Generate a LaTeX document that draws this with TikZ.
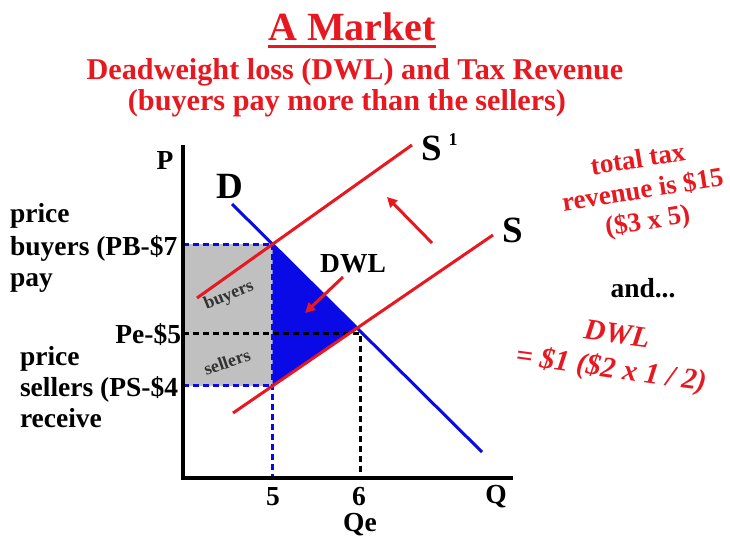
\documentclass[tikz,border=0pt]{standalone}
\usepackage{fontspec}
\setmainfont{Liberation Serif}
\usetikzlibrary{intersections,arrows.meta}
\definecolor{mred}{RGB}{232,24,32}
\definecolor{mblue}{RGB}{10,10,230}
\definecolor{mgray}{RGB}{192,192,192}
\tikzset{
 basetxt/.style={inner sep=0pt, outer sep=0pt},
 ttl/.style={basetxt, text=mred, font=\bfseries\fontsize{40}{44}\selectfont},
 sub/.style={basetxt, text=mred, font=\bfseries\fontsize{30.2}{33}\selectfont},
 lbl/.style={basetxt, font=\bfseries\fontsize{27.5}{30}\selectfont},
 big/.style={basetxt, font=\bfseries\fontsize{37}{40}\selectfont},
 sup1/.style={basetxt, font=\bfseries\fontsize{18}{20}\selectfont},
 small/.style={basetxt, text=black!80, font=\bfseries\fontsize{18}{20}\selectfont},
 rtxt/.style={basetxt, text=mred, align=center, font=\bfseries\fontsize{27}{31}\selectfont},
 rit/.style={basetxt, text=mred, font=\bfseries\itshape\fontsize{29.5}{32}\selectfont},
 axisline/.style={line width=3.5pt, black, line cap=rect},
 dline/.style={line width=3pt, mblue},
 sline/.style={line width=3pt, mred},
 bdash/.style={line width=3pt, mblue, dash pattern=on 6pt off 4pt},
 kdash/.style={line width=3pt, black, dash pattern=on 6pt off 4pt},
 rarrow/.style={line width=3pt, mred, -{Triangle[length=10pt,width=10pt]}},
}
\begin{document}
\begin{tikzpicture}[x=1pt,y=-1pt]
\useasboundingbox (0,0) rectangle (730,536);
% curve end points
\coordinate (D1) at (232,204);
\coordinate (D2) at (482,452);
\coordinate (Sa1) at (197,298);
\coordinate (Sa2) at (412,145);
\coordinate (Sb1) at (233,413);
\coordinate (Sb2) at (493,235);
\coordinate (O) at (183,478);
\coordinate (Ptop) at (183,147);
\coordinate (Qend) at (511,478);
\coordinate (Pe) at (360,333);
\path[name path=Dp] (D1) -- (D2);
\path[name path=S1p] (Sa1) -- (Sa2);
\path[name path=Sp] (Sb1) -- (Sb2);
\path[name intersections={of=Dp and S1p, by=A}];
\path[name intersections={of=Dp and Sp, by=E}];
\path[name path=vert] (A) -- ++(0,300);
\path[name intersections={of=vert and Sp, by=B}];
% areas
\fill[mgray] (O |- A) rectangle (B);
\fill[mblue] (A) -- (E) -- (B) -- cycle;
% dashed guides
\draw[bdash] (O |- A) -- (A);
\draw[bdash] (O |- B) -- (B);
\draw[bdash] (A) -- (A |- O);
\draw[kdash] (O |- Pe) -- (Pe) -- (Pe |- O);
% curves
\draw[dline] (D1) -- (D2);
\draw[sline] (Sa1) -- (Sa2);
\draw[sline] (Sb1) -- (Sb2);
% axes
\draw[axisline] (Ptop) -- (O) -- (Qend);
% arrows
\coordinate (w1) at (343,277);
\coordinate (w2) at (305,313);
\draw[rarrow] (w1) -- (w2);
\coordinate (u1) at (432,243);
\coordinate (u2) at (387,197);
\draw[rarrow] (u1) -- (u2);
% titles
\node[ttl, anchor=base] (t1) at (352,40) {A Market};
\draw[mred, line width=2.5pt] ([yshift=-6pt]t1.south west) -- ([yshift=-6pt]t1.south east);
\node[sub, anchor=base] (t2) at (355,79) {Deadweight loss (DWL) and Tax Revenue};
\node[sub, anchor=base] (t3) at (347,110) {(buyers pay more than the sellers)};
% axis labels
\node[lbl, anchor=base] (pl) at (165,169) {P};
\node[big, anchor=base] (dl) at (230,198) {D};
\node[big, anchor=base] (s1l) at (432,160) {S};
\node[sup1, anchor=base] (s1s) at (453,145) {1};
\node[big, anchor=base] (sl) at (513,242) {S};
\node[lbl, anchor=base] (dwl) at (353,272) {DWL};
\node[small, anchor=center, rotate=22] (buy) at (229,296) {buyers};
\node[small, anchor=center, rotate=19] (sel) at (227,362) {sellers};
\node[lbl, anchor=base east] (pe) at (181,343) {Pe-\$5};
\node[lbl, anchor=base west] (b1) at (10,222) {price};
\node[lbl, anchor=base west] (b2) at (10,255) {buyers (PB-\$7};
\node[lbl, anchor=base west] (b3) at (10,286) {pay};
\node[lbl, anchor=base west] (c1) at (20,365) {price};
\node[lbl, anchor=base west] (c2) at (20,396) {sellers (PS-\$4};
\node[lbl, anchor=base west] (c3) at (20,427) {receive};
\node[lbl, anchor=base] (q5) at (273,505) {5};
\node[lbl, anchor=base] (q6) at (359,505) {6};
\node[lbl, anchor=base] (qe) at (360,531) {Qe};
\node[lbl, anchor=base] (ql) at (496,503) {Q};
% right side
\node[rtxt, rotate=9] (tax) at (643,192) {total tax\\revenue is \$15\\(\$3 x 5)};
\node[lbl, anchor=base] (and) at (643,297) {and...};
\node[rit, rotate=-8] (dwr) at (617,334) {DWL};
\node[rit, rotate=-8] (dwv) at (611,370) {= \$1 (\$2 x 1 / 2)};
\end{tikzpicture}
\end{document}
